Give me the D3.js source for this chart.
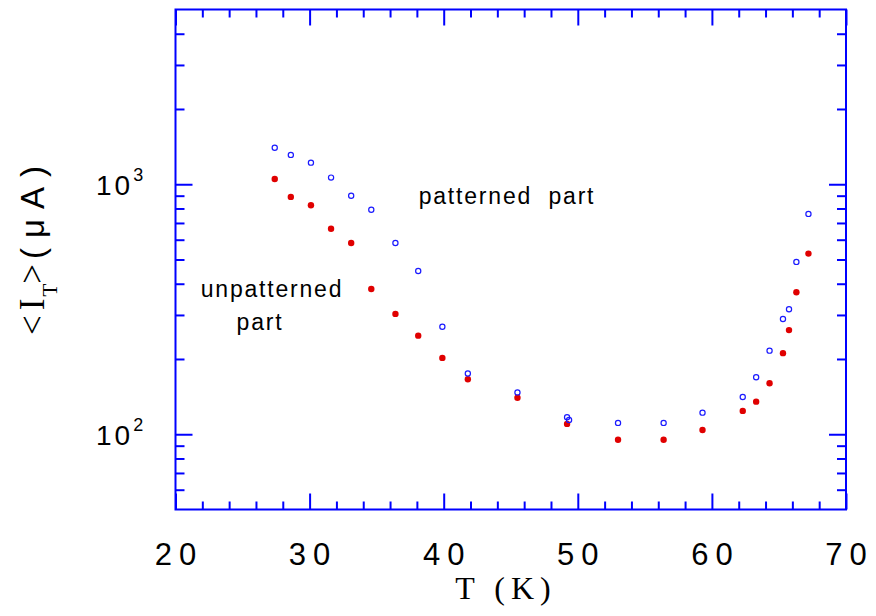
<!DOCTYPE html>
<html>
<head>
<meta charset="utf-8">
<script src="https://cdn.jsdelivr.net/npm/d3@7"></script>
<style>
  body { margin: 0; background: #fff; }
  svg { display: block; }
</style>
</head>
<body>
<div id="chart"></div>
<script>
// Temperature (K) and mean current (uA) for the two parts of the sample
var tPatterned = [27.4, 28.6, 30.1, 31.6, 33.1, 34.6, 36.4, 38.1, 39.9, 41.8, 45.5, 49.2, 49.35,
  53.0, 56.4, 59.3, 62.3, 63.3, 64.3, 65.3, 65.75, 66.3, 67.2];
var iPatterned = [1400, 1310, 1220, 1063, 900, 791, 582, 450, 269, 175, 147, 117, 114,
  111, 111, 122, 141, 169, 216, 289, 316, 489, 761];

var tUnpatterned = [27.4, 28.6, 30.1, 31.6, 33.1, 34.6, 36.4, 38.1, 39.9, 41.8, 45.5, 49.2,
  53.0, 56.4, 59.3, 62.3, 63.3, 64.3, 65.3, 65.75, 66.3, 67.2];
var iUnpatterned = [1050, 890, 824, 664, 582, 381, 303, 248, 202, 166, 140, 110,
  95, 95, 104, 124, 135, 160, 211, 261, 370, 528];

// Axis ticks
var xMajor = [20, 30, 40, 50, 60, 70];
var xMinor = [22, 24, 26, 28, 32, 34, 36, 38, 42, 44, 46, 48, 52, 54, 56, 58, 62, 64, 66, 68];
var yMajor = [100, 1000];
var yExp = ["2", "3"];
var yMinor = [60, 70, 80, 90, 200, 300, 400, 500, 600, 700, 800, 900, 2000, 3000, 4000];

var width = 876;
var height = 616;

var blue = "#0000ff";
var sans = "'Liberation Sans', Arial, sans-serif";
var serif = "'Liberation Serif', 'Times New Roman', serif";

var svg = d3
  .select("#chart")
  .append("svg")
  .attr("width", width)
  .attr("height", height);

// Scales
var xScale = d3.scaleLinear().domain([20, 70]).range([175.5, 846]);
var yScale = d3.scaleLog().domain([50, 5000]).range([509.5, 9.5]);

var plotLeft = xScale.range()[0];
var plotRight = xScale.range()[1];
var plotBottom = yScale.range()[0];
var plotTop = yScale.range()[1];

// helper to draw an inward tick set with a d3 axis
function tickSet(axis, values, size, transform) {
  var g = svg
    .append("g")
    .attr("transform", transform)
    .call(axis.tickValues(values).tickSize(size).tickFormat(""));
  g.select(".domain").remove();
  g.selectAll(".tick line").attr("stroke", blue).attr("stroke-width", 2);
}

tickSet(d3.axisBottom(xScale), xMajor, -16, "translate(0," + plotBottom + ")");
tickSet(d3.axisBottom(xScale), xMinor, -8, "translate(0," + plotBottom + ")");
tickSet(d3.axisTop(xScale), xMajor, -16, "translate(0," + plotTop + ")");
tickSet(d3.axisTop(xScale), xMinor, -8, "translate(0," + plotTop + ")");
tickSet(d3.axisLeft(yScale), yMajor, -17, "translate(" + plotLeft + ",0)");
tickSet(d3.axisLeft(yScale), yMinor, -9, "translate(" + plotLeft + ",0)");
tickSet(d3.axisRight(yScale), yMajor, -17, "translate(" + plotRight + ",0)");
tickSet(d3.axisRight(yScale), yMinor, -9, "translate(" + plotRight + ",0)");

// Frame
svg
  .append("rect")
  .attr("x", plotLeft)
  .attr("y", plotTop)
  .attr("width", plotRight - plotLeft)
  .attr("height", plotBottom - plotTop)
  .attr("fill", "none")
  .attr("stroke", blue)
  .attr("stroke-width", 2);

// X tick labels
svg
  .append("g")
  .selectAll("text")
  .data(xMajor)
  .enter()
  .append("text")
  .attr("x", function(d) { return xScale(d) + 3.5; })
  .attr("y", 565)
  .attr("text-anchor", "middle")
  .attr("font-family", sans)
  .attr("font-size", 31)
  .attr("letter-spacing", 7)
  .attr("fill", "#000")
  .text(function(d) { return d; });

// Y tick labels (10^n)
var yLab = svg
  .append("g")
  .selectAll("text")
  .data(yMajor)
  .enter()
  .append("text")
  .attr("x", 96)
  .attr("y", function(d) { return yScale(d) + 11; })
  .attr("font-family", sans)
  .attr("font-size", 28)
  .attr("letter-spacing", 3)
  .attr("fill", "#000");
yLab.append("tspan").text("10");
yLab
  .append("tspan")
  .attr("dy", -14)
  .attr("font-size", 18)
  .attr("letter-spacing", 0)
  .text(function(d, i) { return yExp[i]; });

// Axis titles
svg
  .append("text")
  .attr("x", 506)
  .attr("y", 599)
  .attr("text-anchor", "middle")
  .attr("font-family", serif)
  .attr("font-size", 32)
  .attr("letter-spacing", 6)
  .attr("fill", "#000")
  .text("T (K)");

var yTitle = svg
  .append("text")
  .attr("transform", "translate(44,335)rotate(-90)")
  .attr("font-family", serif)
  .attr("font-size", 35)
  .attr("fill", "#000");
yTitle.append("tspan").attr("letter-spacing", 5).text("<I");
yTitle.append("tspan").attr("font-size", 21).attr("dy", 13).attr("dx", -3).text("T");
yTitle.append("tspan").attr("dy", -13).attr("letter-spacing", 5).text(">");
yTitle
  .append("tspan")
  .attr("font-family", sans)
  .attr("font-size", 33)
  .attr("letter-spacing", 10)
  .text("(\u03bcA)");

// Annotations
var note = svg
  .append("g")
  .attr("font-family", sans)
  .attr("font-size", 23)
  .attr("fill", "#000")
  .attr("text-anchor", "middle");
note.append("text").attr("x", 507).attr("y", 204).attr("letter-spacing", 1.8).style("white-space", "pre").text("patterned  part");
note.append("text").attr("x", 272).attr("y", 297).attr("letter-spacing", 1.8).text("unpatterned");
note.append("text").attr("x", 260).attr("y", 330).attr("letter-spacing", 1.8).text("part");

// Points: unpatterned (filled red)
svg
  .append("g")
  .selectAll("circle")
  .data(tUnpatterned)
  .enter()
  .append("circle")
  .attr("cx", function(d) { return xScale(d); })
  .attr("cy", function(d, i) { return yScale(iUnpatterned[i]); })
  .attr("r", 3.2)
  .attr("fill", "#e00000");

// Points: patterned (open blue)
svg
  .append("g")
  .selectAll("circle")
  .data(tPatterned)
  .enter()
  .append("circle")
  .attr("cx", function(d) { return xScale(d); })
  .attr("cy", function(d, i) { return yScale(iPatterned[i]); })
  .attr("r", 2.6)
  .attr("fill", "none")
  .attr("stroke", "#1a1aff")
  .attr("stroke-width", 1.2);
</script>
</body>
</html>
